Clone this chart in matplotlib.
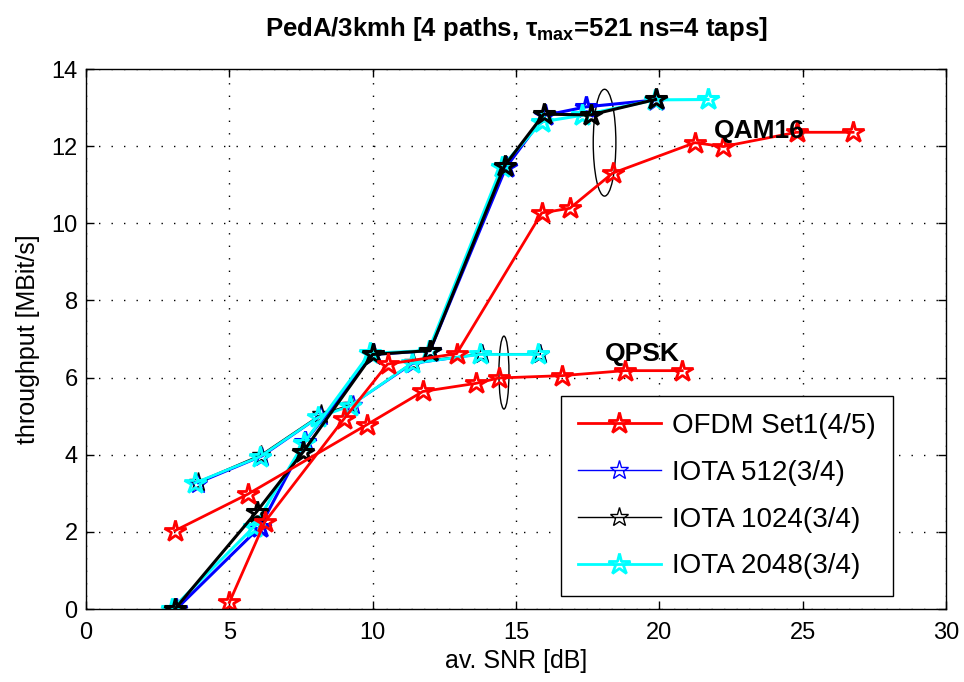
import matplotlib
matplotlib.use('Agg')
import matplotlib.pyplot as plt
from matplotlib.patches import Ellipse

plt.rcParams['font.family'] = ['Liberation Sans', 'DejaVu Sans']
plt.rcParams['mathtext.fontset'] = 'custom'
plt.rcParams['mathtext.rm'] = 'Liberation Sans:bold'
plt.rcParams['mathtext.it'] = 'Liberation Sans:bold'
plt.rcParams['mathtext.bf'] = 'Liberation Sans:bold'

# OFDM Set1 (rate 4/5)
ofdm_qpsk_snr = [3.1, 5.65, 9.8, 11.75, 13.6, 14.4, 16.6, 18.8, 20.8]
ofdm_qpsk_tp = [2.03, 2.98, 4.78, 5.64, 5.85, 5.99, 6.05, 6.18, 6.18]
ofdm_qam_snr = [5.0, 6.24, 9.0, 10.52, 12.93, 15.9, 16.88, 18.37, 21.24, 22.23, 24.79, 26.76]
ofdm_qam_tp = [0.17, 2.26, 4.93, 6.35, 6.62, 10.27, 10.39, 11.3, 12.09, 11.99, 12.36, 12.36]

# IOTA 512 (rate 3/4)
iota512_qpsk_snr = [3.9, 6.15, 8.2, 9.3, 11.4, 13.8, 15.85]
iota512_qpsk_tp = [3.25, 3.95, 5.0, 5.3, 6.35, 6.6, 6.6]
iota512_qam_snr = [3.15, 6.07, 7.64, 10.0, 12.0, 14.65, 16.0, 17.46, 19.9]
iota512_qam_tp = [0.0, 2.13, 4.34, 6.6, 6.7, 11.45, 12.8, 13.02, 13.2]

# IOTA 1024 (rate 3/4)
iota1024_qpsk_snr = [3.9, 6.1, 8.2, 9.25, 11.4, 13.8, 15.85]
iota1024_qpsk_tp = [3.3, 4.0, 5.05, 5.3, 6.4, 6.62, 6.62]
iota1024_qam_snr = [3.1, 5.95, 7.58, 10.0, 12.0, 14.6, 15.97, 17.6, 19.87]
iota1024_qam_tp = [0.0, 2.52, 4.08, 6.6, 6.7, 11.49, 12.83, 12.81, 13.21]

# IOTA 2048 (rate 3/4)
iota2048_qpsk_snr = [3.8, 6.07, 8.1, 9.2, 11.36, 13.74, 15.78]
iota2048_qpsk_tp = [3.27, 3.95, 4.97, 5.26, 6.37, 6.6, 6.6]
iota2048_qam_snr = [3.0, 5.86, 7.6, 9.9, 11.95, 14.5, 15.9, 17.3, 19.85, 21.7]
iota2048_qam_tp = [0.0, 2.13, 4.3, 6.63, 6.7, 11.46, 12.63, 12.8, 13.2, 13.21]

fig = plt.figure(figsize=(9.64, 6.82), dpi=100)
ax = fig.add_axes([0.0892, 0.107, 0.8921, 0.7918])

def star(x, y, color, lw, ms, label=None):
    return ax.plot(x, y, '-', color=color, lw=lw, marker='*', ms=ms,
                   mfc='none', mec=color, mew=lw, label=label)[0]

h_blue = star(iota512_qpsk_snr, iota512_qpsk_tp, 'blue', 1, 14, 'IOTA 512(3/4)')
h_black = star(iota1024_qpsk_snr, iota1024_qpsk_tp, 'black', 1, 14, 'IOTA 1024(3/4)')
h_cyan = star(iota2048_qpsk_snr, iota2048_qpsk_tp, 'cyan', 2, 16, 'IOTA 2048(3/4)')
star(iota512_qam_snr, iota512_qam_tp, 'blue', 2.2, 16)
star(iota2048_qam_snr, iota2048_qam_tp, 'cyan', 2.2, 16)
star(iota1024_qam_snr, iota1024_qam_tp, 'black', 2.2, 16)
h_red = star(ofdm_qpsk_snr, ofdm_qpsk_tp, 'red', 2, 16, 'OFDM Set1(4/5)')
star(ofdm_qam_snr, ofdm_qam_tp, 'red', 2, 16)

# ellipses grouping the QPSK and QAM16 curves
ax.add_patch(Ellipse((14.58, 6.13), 0.35, 1.89, fill=False, ec='black', lw=1))
ax.add_patch(Ellipse((18.09, 12.09), 0.79, 2.77, fill=False, ec='black', lw=1))
ax.text(23.5, 12.4, 'QAM16', fontsize=19, fontweight='bold', ha='center', va='center')
ax.text(19.4, 6.6, 'QPSK', fontsize=19, fontweight='bold', ha='center', va='center')

ax.set_xlim(0, 30)
ax.set_ylim(0, 14)
ax.set_xticks(range(0, 31, 5))
ax.set_yticks(range(0, 15, 2))
ax.grid(True, ls=(0, (1, 8)), color='black', lw=1)
ax.tick_params(direction='in', top=True, right=True, labelsize=17, length=6, width=1)
ax.tick_params(axis='x', pad=9)
ax.tick_params(axis='y', pad=6)
for s in ax.spines.values():
    s.set_linewidth(1)

ax.set_xlabel('av. SNR [dB]', fontsize=18, labelpad=4)
ax.set_ylabel('throughput [MBit/s]', fontsize=18, labelpad=8)
ax.set_title(r'PedA/3kmh [4 paths, $\tau_{\mathrm{max}}$=521 ns=4 taps]',
             fontsize=18.5, fontweight='bold', pad=24)

leg = ax.legend(handles=[h_red, h_blue, h_black, h_cyan], loc='lower right',
                bbox_to_anchor=(0.938, 0.024), fontsize=20, handlelength=3,
                handletextpad=0.4, fancybox=False, edgecolor='black', framealpha=1,
                labelspacing=0.75, borderpad=0.6, borderaxespad=0)
leg.get_frame().set_linewidth(1)

fig.savefig('out.png', dpi=100)
